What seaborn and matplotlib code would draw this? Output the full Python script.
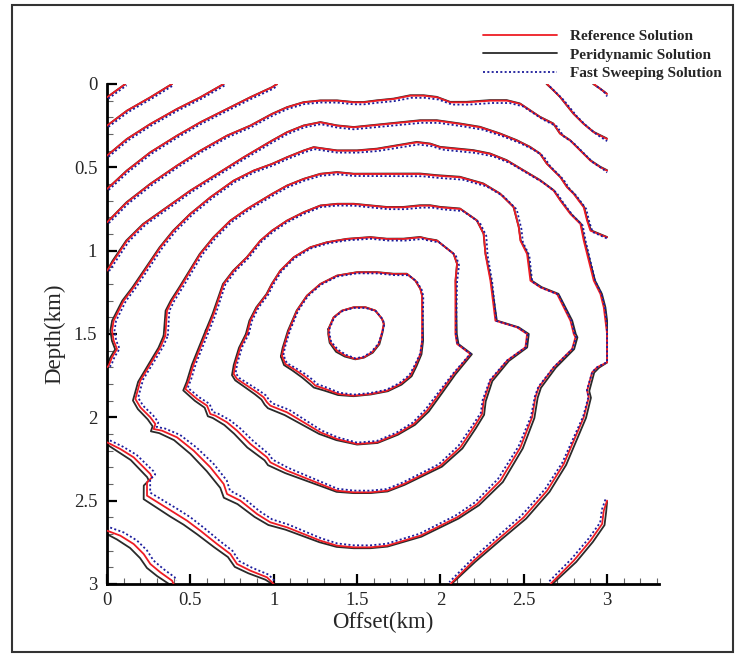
import numpy as np
import pandas as pd
import matplotlib
matplotlib.use("Agg")
import matplotlib.pyplot as plt
import seaborn as sns
from matplotlib.ticker import MultipleLocator
from matplotlib.lines import Line2D
from matplotlib.patches import Rectangle

# ---------------- data (km) ----------------
SOURCE = (1.5, 1.5)

C1 = [(1.33,1.47),(1.36,1.40),(1.41,1.36),(1.48,1.34),(1.55,1.34),(1.61,1.36),(1.65,1.41),(1.66,1.44),
      (1.65,1.49),(1.63,1.56),(1.59,1.61),(1.54,1.64),(1.49,1.65),(1.43,1.63),(1.38,1.60),(1.34,1.55),(1.33,1.50)]
C2 = [(1.05,1.63),(1.06,1.58),(1.09,1.48),(1.14,1.36),(1.20,1.27),(1.28,1.20),(1.38,1.15),(1.50,1.13),(1.62,1.13),
      (1.72,1.14),(1.80,1.14),(1.85,1.18),(1.88,1.23),(1.89,1.27),(1.89,1.40),(1.89,1.54),(1.88,1.62),(1.85,1.69),
      (1.82,1.75),(1.76,1.80),(1.68,1.84),(1.58,1.86),(1.48,1.87),(1.39,1.86),(1.31,1.83),(1.25,1.81),(1.23,1.79),
      (1.18,1.75),(1.12,1.71),(1.07,1.68)]
C3 = [(0.84,1.50),(0.86,1.42),(0.90,1.34),(0.96,1.26),(0.99,1.20),(1.04,1.12),(1.12,1.04),(1.22,0.98),(1.32,0.95),
      (1.44,0.93),(1.58,0.92),(1.68,0.93),(1.78,0.93),(1.88,0.92),(1.92,0.93),(1.98,0.94),(2.08,1.02),(2.10,1.08),
      (2.09,1.18),(2.09,1.50),(2.10,1.56),(2.18,1.62),(2.08,1.74),(2.00,1.85),(1.92,1.96),(1.84,2.04),(1.74,2.10),
      (1.62,2.15),(1.50,2.16),(1.38,2.13),(1.28,2.09),(1.18,2.03),(1.08,1.97),(0.98,1.93),(0.96,1.91),(0.94,1.88),
      (0.90,1.85),(0.84,1.81),(0.78,1.77),(0.76,1.74),(0.77,1.68),(0.80,1.58)]
C4 = [(0.60,1.48),(0.64,1.38),(0.68,1.26),(0.70,1.20),(0.76,1.12),(0.84,1.04),(0.92,0.94),(0.99,0.88),(1.08,0.82),
      (1.18,0.77),(1.28,0.73),(1.38,0.72),(1.48,0.72),(1.58,0.73),(1.68,0.74),(1.78,0.74),(1.88,0.73),(1.94,0.73),
      (2.00,0.74),(2.12,0.75),(2.22,0.82),(2.26,0.90),(2.27,1.02),(2.30,1.18),(2.32,1.34),(2.33,1.42),(2.46,1.46),
      (2.52,1.50),(2.51,1.58),(2.40,1.66),(2.30,1.78),(2.26,1.90),(2.25,1.98),(2.20,2.06),(2.12,2.18),(2.00,2.29),
      (1.88,2.35),(1.78,2.40),(1.68,2.44),(1.58,2.45),(1.48,2.45),(1.38,2.44),(1.28,2.40),(1.18,2.36),(1.08,2.32),
      (0.98,2.27),(0.96,2.24),(0.86,2.16),(0.78,2.08),(0.72,2.03),(0.65,1.99),(0.62,1.98),(0.60,1.93),(0.54,1.89),
      (0.47,1.83),(0.49,1.78),(0.52,1.68),(0.56,1.58)]
C5 = [(0.35,1.51),(0.36,1.36),(0.39,1.30),(0.44,1.22),(0.50,1.12),(0.56,1.02),(0.64,0.92),(0.74,0.82),(0.84,0.75),
      (0.94,0.69),(0.99,0.66),(1.08,0.61),(1.18,0.57),(1.28,0.54),(1.38,0.53),(1.48,0.54),(1.58,0.54),(1.68,0.54),
      (1.78,0.54),(1.88,0.54),(1.98,0.55),(2.12,0.56),(2.26,0.60),(2.36,0.66),(2.44,0.74),(2.47,0.86),(2.48,0.94),
      (2.52,1.02),(2.54,1.18),(2.60,1.22),(2.70,1.26),(2.74,1.34),(2.78,1.42),(2.80,1.50),(2.81,1.52),(2.79,1.59),
      (2.68,1.70),(2.59,1.82),(2.57,1.88),(2.55,2.00),(2.48,2.18),(2.36,2.38),(2.22,2.52),(2.10,2.60),(2.00,2.65),
      (1.88,2.71),(1.78,2.74),(1.68,2.77),(1.58,2.78),(1.48,2.78),(1.38,2.77),(1.28,2.74),(1.18,2.70),(1.08,2.66),
      (0.98,2.63),(0.90,2.58),(0.80,2.50),(0.72,2.46),(0.70,2.40),(0.62,2.30),(0.52,2.20),(0.42,2.12),(0.33,2.08),
      (0.28,2.07),(0.29,2.04),(0.26,2.00),(0.20,1.94),(0.17,1.89),(0.20,1.78),(0.26,1.68),(0.32,1.58)]
C6_UPPER = [(0.00,1.70),(0.01,1.69),(0.03,1.64),(0.06,1.59),(0.04,1.54),(0.03,1.48),(0.04,1.42),(0.10,1.30),
            (0.16,1.22),(0.24,1.10),(0.32,0.98),(0.40,0.88),(0.50,0.78),(0.62,0.68),(0.76,0.58),(0.88,0.52),
            (0.99,0.48),(1.08,0.44),(1.18,0.40),(1.24,0.38),(1.38,0.40),(1.50,0.40),(1.62,0.39),(1.74,0.37),
            (1.86,0.35),(1.94,0.36),(2.00,0.38),(2.10,0.39),(2.20,0.40),(2.30,0.42),(2.40,0.46),(2.50,0.52),
            (2.60,0.58),(2.68,0.64),(2.72,0.70),(2.78,0.78),(2.84,0.84),(2.86,0.94),(2.88,1.02),(2.90,1.10),
            (2.92,1.18),(2.96,1.26),(2.98,1.34),(2.99,1.42),(3.00,1.50),(3.00,1.67),(2.94,1.70),(2.91,1.73),
            (2.88,1.84),(2.89,1.88),(2.86,2.00),(2.80,2.14),(2.74,2.28),(2.64,2.44),(2.50,2.60),(2.36,2.72),
            (2.20,2.86),(2.06,3.00)]
C6_LOWER = [(0.00,2.15),(0.08,2.19),(0.16,2.24),(0.22,2.30),(0.26,2.34),(0.27,2.36),(0.24,2.39),(0.24,2.47),
            (0.32,2.52),(0.40,2.57),(0.48,2.62),(0.56,2.68),(0.66,2.76),(0.74,2.82),(0.78,2.88),(0.86,2.92),
            (0.96,2.96),(1.00,3.00)]
C7_UPPER = [(0.00,1.12),(0.04,1.06),(0.12,0.94),(0.22,0.84),(0.36,0.74),(0.50,0.64),(0.66,0.54),(0.82,0.44),
            (0.99,0.34),(1.08,0.29),(1.18,0.25),(1.28,0.23),(1.38,0.25),(1.48,0.26),(1.58,0.25),(1.68,0.24),
            (1.78,0.23),(1.88,0.22),(1.98,0.22),(2.12,0.24),(2.24,0.26),(2.36,0.30),(2.46,0.34),(2.54,0.38),
            (2.60,0.42),(2.64,0.48),(2.72,0.56),(2.76,0.62),(2.80,0.66),(2.86,0.74),(2.88,0.82),(2.90,0.88),(3.00,0.92)]
C7_LOWER_LEFT = [(0.00,2.68),(0.08,2.71),(0.16,2.76),(0.22,2.82),(0.26,2.88),(0.32,2.93),(0.39,2.98),(0.40,3.00)]
C7_LOWER_RIGHT = [(3.00,2.50),(2.98,2.56),(2.97,2.64),(2.90,2.74),(2.80,2.86),(2.66,3.00)]
C8 = [(0.00,0.83),(0.12,0.71),(0.26,0.60),(0.42,0.49),(0.56,0.40),(0.72,0.31),(0.86,0.25),(0.99,0.18),(1.08,0.14),
      (1.18,0.11),(1.28,0.10),(1.38,0.10),(1.48,0.11),(1.54,0.11),(1.62,0.10),(1.72,0.09),(1.82,0.07),(1.90,0.07),
      (1.98,0.08),(2.06,0.11),(2.16,0.11),(2.30,0.10),(2.40,0.10),(2.48,0.12),(2.54,0.16),(2.60,0.20),(2.68,0.24),
      (2.72,0.30),(2.78,0.34),(2.84,0.40),(2.90,0.46),(2.96,0.50),(3.00,0.52)]
C9_LEFT = [(0.00,0.63),(0.12,0.52),(0.26,0.41),(0.42,0.31),(0.56,0.23),(0.72,0.15),(0.86,0.08),(0.99,0.02),(1.02,0.00)]
C9_RIGHT = [(2.64,0.00),(2.68,0.04),(2.72,0.08),(2.76,0.13),(2.80,0.18),(2.86,0.24),(2.92,0.29),(3.00,0.33)]
C10_LEFT = [(0.00,0.43),(0.12,0.33),(0.26,0.24),(0.42,0.15),(0.56,0.08),(0.70,0.00)]
C10_RIGHT = [(2.92,0.00),(2.96,0.03),(3.00,0.06)]
C11 = [(0.00,0.25),(0.12,0.16),(0.26,0.08),(0.39,0.00)]
C12 = [(0.00,0.08),(0.11,0.00)]

# (name, points, closed loop?, level index)
PIECES = [("C1", C1, True, 1), ("C2", C2, True, 2), ("C3", C3, True, 3), ("C4", C4, True, 4),
          ("C5", C5, True, 5), ("C6u", C6_UPPER, False, 6), ("C6l", C6_LOWER, False, 6),
          ("C7u", C7_UPPER, False, 7), ("C7ll", C7_LOWER_LEFT, False, 7), ("C7lr", C7_LOWER_RIGHT, False, 7),
          ("C8", C8, False, 8), ("C9l", C9_LEFT, False, 9), ("C9r", C9_RIGHT, False, 9),
          ("C10l", C10_LEFT, False, 10), ("C10r", C10_RIGHT, False, 10), ("C11", C11, False, 11),
          ("C12", C12, False, 12)]

# how far the other two solutions sit from the reference, per direction around the source (km)
DIR_DEG = [-180, -135, -90, -45, 0, 45, 90, 135, 180]          # W, NW, N, NE, E, SE, S, SW, W
FSM_DX  = [0.015, 0.008, 0.0, 0.020, 0.005, -0.015, 0.0, 0.020, 0.015]
FSM_DZ  = [0.0, 0.008, 0.012, 0.015, 0.0, -0.010, -0.012, -0.022, 0.0]
PERI_DX = [-0.010, 0.0, 0.0, -0.004, 0.012, 0.015, 0.0, -0.022, -0.010]
PERI_DZ = [0.0, 0.0, -0.002, -0.004, 0.0, 0.008, 0.005, 0.025, 0.0]
LEVEL_SPREAD = {1: 0.3, 2: 0.5, 3: 0.7, 4: 0.85}

SERIES = ["Reference Solution", "Peridynamic Solution", "Fast Sweeping Solution"]

# ---------------- build long table ----------------
rows = []
for name, pts, closed, lev in PIECES:
    a = np.array(pts, dtype=float)
    if closed:
        a = np.vstack([a, a[:1]])
    ang = np.degrees(np.arctan2(a[:, 1] - SOURCE[1], a[:, 0] - SOURCE[0]))
    k = LEVEL_SPREAD.get(lev, 1.0)
    for sol, dxs, dzs in [(SERIES[0], None, None), (SERIES[1], PERI_DX, PERI_DZ), (SERIES[2], FSM_DX, FSM_DZ)]:
        if dxs is None:
            x, z = a[:, 0], a[:, 1]
        else:
            x = np.clip(a[:, 0] + k * np.interp(ang, DIR_DEG, dxs), 0, 3)
            z = np.clip(a[:, 1] + k * np.interp(ang, DIR_DEG, dzs), 0, 3)
        for i in range(len(x)):
            rows.append((sol, name, i, x[i], z[i]))
df = pd.DataFrame(rows, columns=["solution", "piece", "order", "offset", "depth"])

# ---------------- figure ----------------
sns.set_style("ticks")
plt.rcParams["font.family"] = ["Liberation Serif", "DejaVu Serif"]

W, H = 737, 656
fig = plt.figure(figsize=(W / 100, H / 100), dpi=100)
ax = fig.add_axes([107 / W, (H - 584) / H, 552 / W, 500 / H])

styles = {
    SERIES[1]: dict(color="#2a2a2a", lw=1.3, ls="-", zorder=2),
    SERIES[0]: dict(color="#ee1c24", lw=1.3, ls="-", zorder=3),
    SERIES[2]: dict(color="#1c1c9c", lw=1.3, ls=(0, (1.1, 1.3)), zorder=4),
}
for sol in [SERIES[1], SERIES[0], SERIES[2]]:
    st = styles[sol]
    sns.lineplot(data=df[df.solution == sol], x="offset", y="depth", units="piece", estimator=None,
                 sort=False, color=st["color"], linewidth=st["lw"], linestyle=st["ls"],
                 zorder=st["zorder"], ax=ax, legend=False)

ax.set_xlim(0, 552 / 166.7)
ax.set_ylim(3, 0)
ax.xaxis.set_major_locator(MultipleLocator(0.5))
ax.xaxis.set_minor_locator(MultipleLocator(0.1))
ax.yaxis.set_major_locator(MultipleLocator(0.5))
ax.yaxis.set_minor_locator(MultipleLocator(0.1))
fmt = matplotlib.ticker.FuncFormatter(lambda v, p: f"{v:g}")
ax.xaxis.set_major_formatter(fmt)
ax.yaxis.set_major_formatter(fmt)
ax.xaxis.set_ticks([0, 0.5, 1, 1.5, 2, 2.5, 3])
ax.tick_params(which="major", direction="in", length=7, width=1.6, labelsize=13.5, color="black")
ax.tick_params(axis="x", which="major", pad=6)
ax.tick_params(axis="y", which="major", pad=7)
ax.tick_params(which="minor", direction="in", length=4, width=0.8, color="#666666")
for side in ["top", "right"]:
    ax.spines[side].set_visible(False)
for side in ["left", "bottom"]:
    ax.spines[side].set_linewidth(2.0)
    ax.spines[side].set_color("black")
ax.set_xlabel("Offset(km)", fontsize=16.5, labelpad=2)
ax.set_ylabel("Depth(km)", fontsize=16.5, labelpad=6)
ax.set_facecolor("white")

handles = [Line2D([], [], color=styles[s]["color"], lw=styles[s]["lw"], ls=styles[s]["ls"]) for s in SERIES]
fig.legend(handles, SERIES, loc="upper right", bbox_to_anchor=(729 / W, 1 - 22 / H), frameon=False,
           borderpad=0, handlelength=4.9, handletextpad=0.8, labelspacing=0.3,
           prop=dict(family="Liberation Serif", weight="bold", size=11))

fig.patches.append(Rectangle((12 / W, 4 / H), 721 / W, 647 / H, transform=fig.transFigure,
                             fill=False, edgecolor="#333333", linewidth=1.5))

fig.savefig("out.png", dpi=100, facecolor="white")
